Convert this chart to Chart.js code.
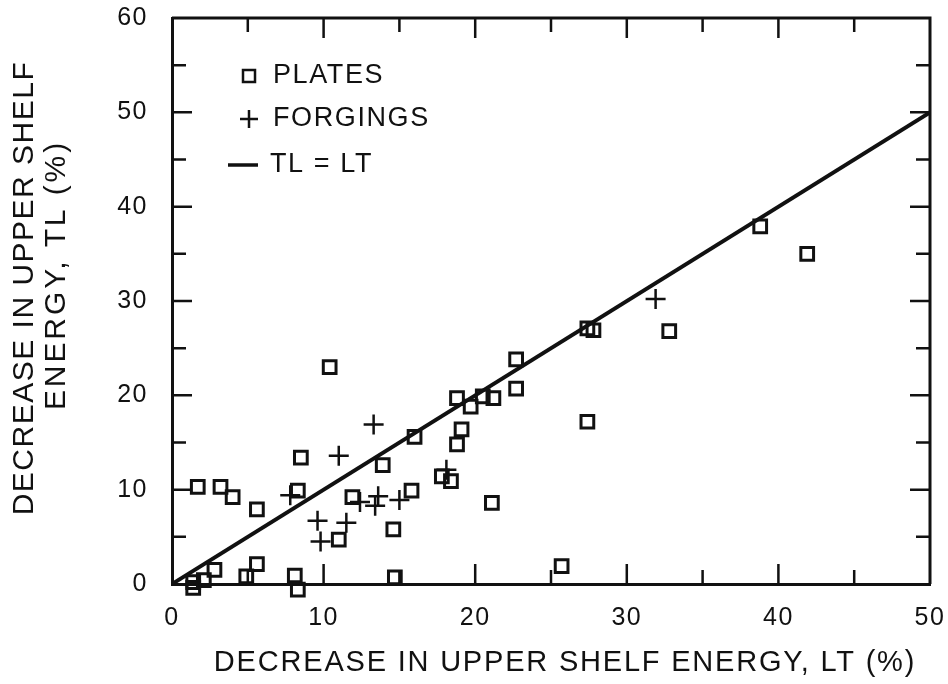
<!DOCTYPE html>
<html>
<head>
<meta charset="utf-8">
<title>Upper shelf energy decrease: TL vs LT</title>
<script src="https://cdn.jsdelivr.net/npm/chart.js@4.4.1/dist/chart.umd.min.js"></script>
<style>
  html, body { margin: 0; padding: 0; background: #fff; }
  #wrap { width: 948px; height: 684px; }
</style>
</head>
<body>
<div id="wrap"><canvas id="usePlot" width="948" height="684"></canvas></div>
<script>
// ---- data ----
const platesX = [10.4, 16.0, 8.5, 13.9, 1.7, 3.2, 4.0, 5.6, 8.3, 11.9, 15.8, 14.6, 11.0, 5.6, 4.9, 2.8, 2.1, 1.4, 1.4, 8.1,
                 8.3, 14.7, 17.8, 18.4, 22.7, 22.7, 18.8, 19.7, 20.5, 21.2, 19.1, 18.8, 27.4, 21.1, 25.7, 27.4, 27.8, 32.8, 38.8, 41.9];
const platesY = [23.0, 15.6, 13.4, 12.6, 10.3, 10.3, 9.2, 7.9, 9.9, 9.2, 9.9, 5.8, 4.7, 2.1, 0.8, 1.5, 0.4, 0.2, -0.4, 0.9,
                 -0.6, 0.7, 11.4, 10.9, 23.8, 20.7, 19.7, 18.8, 19.9, 19.7, 16.4, 14.8, 17.2, 8.6, 1.9, 27.1, 26.9, 26.8, 37.9, 35.0];

const forgingsX = [13.3, 11.0, 7.8, 12.4, 13.6, 13.4, 15.0, 9.6, 11.5, 9.8, 18.1, 31.9];
const forgingsY = [16.9, 13.6, 9.4, 8.7, 9.3, 8.3, 8.9, 6.7, 6.5, 4.5, 12.1, 30.2];

const equalX = [0, 50];
const equalY = [0, 50];

const xTicks = [0, 10, 20, 30, 40, 50];
const yTicks = [0, 10, 20, 30, 40, 50, 60];
const yTitleLines = ['DECREASE IN UPPER SHELF', 'ENERGY, TL (%)'];
const xTitle = 'DECREASE IN UPPER SHELF ENERGY, LT (%)';

const INK = '#111';
const FONT = '"Liberation Sans", Arial, Helvetica, sans-serif';

const pts = (xs, ys) => xs.map((x, i) => ({ x, y: ys[i] }));

// letter spacing for the old typewriter-ish lettering
const spacing = {
  id: 'spacing',
  beforeLayout(chart) { chart.ctx.letterSpacing = '1.5px'; },
  beforeDraw(chart) { chart.ctx.letterSpacing = '1.5px'; }
};

// box frame + inward ticks on all four sides (every 5, long at every 10), axis titles
const frame = {
  id: 'frame',
  afterDraw(chart) {
    const { ctx, chartArea: a, scales: { x, y } } = chart;
    ctx.save();
    ctx.strokeStyle = INK;
    ctx.lineWidth = 3;
    ctx.beginPath();
    ctx.moveTo(a.left, a.top); ctx.lineTo(a.right, a.top); ctx.lineTo(a.right, a.bottom);
    ctx.stroke();

    ctx.lineWidth = 2.5;
    ctx.beginPath();
    for (let v = 5; v < x.max; v += 5) {
      const px = x.getPixelForValue(v), len = v % 10 === 0 ? 20 : 14;
      ctx.moveTo(px, a.bottom); ctx.lineTo(px, a.bottom - len);
      ctx.moveTo(px, a.top); ctx.lineTo(px, a.top + len);
    }
    for (let v = 5; v < y.max; v += 5) {
      const py = y.getPixelForValue(v), len = v % 10 === 0 ? 20 : 14;
      ctx.moveTo(a.left, py); ctx.lineTo(a.left + len, py);
      ctx.moveTo(a.right, py); ctx.lineTo(a.right - len, py);
    }
    ctx.stroke();

    ctx.fillStyle = INK;
    ctx.textAlign = 'center';
    ctx.textBaseline = 'middle';

    // x title
    ctx.font = '29px ' + FONT;
    ctx.letterSpacing = '1.8px';
    ctx.fillText(xTitle, a.left + 393, a.bottom + 79);

    // two-line rotated y title
    ctx.font = '30px ' + FONT;
    const pos = [[a.left - 147, a.top + 270, '1.5px'], [a.left - 115, a.top + 257, '2.9px']];
    yTitleLines.forEach((t, i) => {
      ctx.save();
      ctx.letterSpacing = pos[i][2];
      ctx.translate(pos[i][0], pos[i][1]);
      ctx.rotate(-Math.PI / 2);
      ctx.fillText(t, 0, 0);
      ctx.restore();
    });
    ctx.restore();
  }
};

// legend in the upper-left corner of the plot
const cornerLegend = {
  id: 'cornerLegend',
  afterDraw(chart) {
    const { ctx, chartArea: a } = chart;
    const ds = chart.data.datasets;
    ctx.save();
    ctx.strokeStyle = INK;
    ctx.fillStyle = INK;
    ctx.font = '27px ' + FONT;
    ctx.letterSpacing = '1.6px';
    ctx.textBaseline = 'middle';
    ctx.textAlign = 'left';

    const mx = a.left + 77;
    let cy = a.top + 58;
    ctx.lineWidth = 2.5;
    ctx.strokeRect(mx - 6, cy - 6, 12, 12);
    ctx.fillText(ds[0].label, a.left + 101, cy);

    cy = a.top + 101;
    ctx.beginPath();
    ctx.moveTo(mx - 9, cy); ctx.lineTo(mx + 9, cy);
    ctx.moveTo(mx, cy - 9); ctx.lineTo(mx, cy + 9);
    ctx.stroke();
    ctx.fillText(ds[1].label, a.left + 101, cy);

    cy = a.top + 147;
    ctx.lineWidth = 3.5;
    ctx.beginPath();
    ctx.moveTo(a.left + 56, cy); ctx.lineTo(a.left + 86, cy);
    ctx.stroke();
    ctx.fillText(ds[2].label, a.left + 98, cy);
    ctx.restore();
  }
};

Chart.defaults.font.family = FONT;
Chart.defaults.color = INK;

new Chart(document.getElementById('usePlot'), {
  type: 'scatter',
  data: {
    datasets: [
      { label: 'PLATES', data: pts(platesX, platesY), pointStyle: 'rect', pointRadius: 9,
        borderColor: INK, backgroundColor: 'rgba(0,0,0,0)', borderWidth: 3, clip: false },
      { label: 'FORGINGS', data: pts(forgingsX, forgingsY), pointStyle: 'cross', pointRadius: 10,
        borderColor: INK, borderWidth: 2.5, clip: false },
      { label: 'TL = LT', type: 'line', data: pts(equalX, equalY), showLine: true,
        borderColor: INK, borderWidth: 4, pointRadius: 0, fill: false }
    ]
  },
  options: {
    responsive: false,
    animation: false,
    events: [],
    layout: { padding: { top: 18, right: 18, left: 0, bottom: 0 } },
    plugins: { legend: { display: false }, tooltip: { enabled: false } },
    scales: {
      x: {
        type: 'linear', position: 'bottom', min: 0, max: 50,
        afterFit: s => { s.height = 100; s.paddingLeft = 0; s.paddingRight = 0; },
        afterBuildTicks: s => { s.ticks = xTicks.map(v => ({ value: v })); },
        grid: { display: false, drawTicks: false },
        border: { display: true, color: INK, width: 3 },
        ticks: { color: INK, font: { size: 25 }, padding: 19, maxRotation: 0 }
      },
      y: {
        type: 'linear', position: 'left', min: 0, max: 60,
        afterFit: s => { s.width = 172; s.paddingTop = 0; s.paddingBottom = 0; },
        afterBuildTicks: s => { s.ticks = yTicks.map(v => ({ value: v })); },
        grid: { display: false, drawTicks: false },
        border: { display: true, color: INK, width: 3 },
        ticks: { color: INK, font: { size: 25 }, padding: 24 }
      }
    }
  },
  plugins: [spacing, frame, cornerLegend]
});
</script>
</body>
</html>
